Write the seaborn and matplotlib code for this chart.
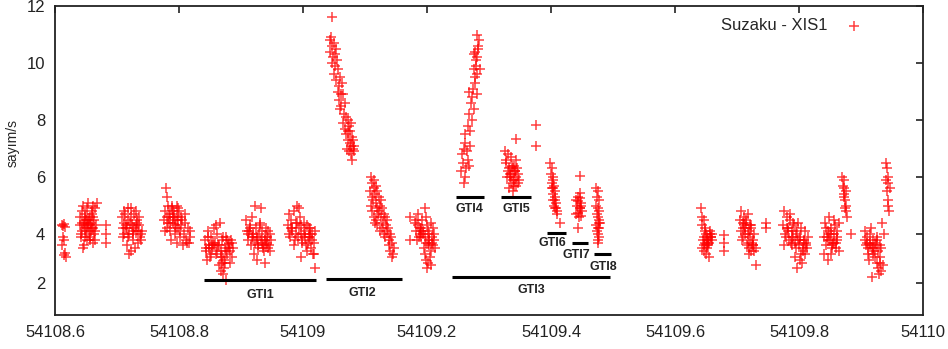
import pandas as pd
import matplotlib
matplotlib.use('Agg')
import matplotlib.pyplot as plt
import seaborn as sns

# ==========================================
# 0. 数据：Suzaku XIS1 光变曲线 (时间 = 54108 + 偏移, 单位 MJD)
# ==========================================
MJD0 = 54108.0

ta = [.612, .614, .616, .613, .615, .612, .616, .614, .617, .613]
ra = [4.30, 4.35, 4.25, 3.90, 3.80, 3.62, 3.35, 3.25, 3.20, 4.28]

tb = [.640, .641, .642, .643, .644, .645, .646, .647, .648, .649,
      .650, .651, .652, .653, .654, .655, .656, .657, .658, .659,
      .660, .661, .662, .663, .664, .665, .666, .667, .642, .645,
      .648, .651, .654, .657, .660, .663, .646, .652, .658, .664,
      .682, .682, .683, .644, .650, .656, .662, .649, .655, .661]
rb = [4.3, 4.6, 3.9, 4.8, 4.1, 5.0, 4.4, 3.6, 4.7, 4.2,
      4.5, 3.8, 4.9, 4.3, 5.1, 4.0, 4.6, 3.9, 4.4, 4.8,
      4.2, 5.0, 3.7, 4.5, 4.1, 4.9, 4.3, 5.1, 4.0, 3.5,
      4.6, 4.2, 4.4, 3.8, 4.7, 4.0, 4.3, 4.5, 4.1, 3.8,
      4.3, 4.0, 3.7, 4.4, 4.1, 4.3, 4.6, 3.9, 4.5, 4.2]

tc = [.708, .710, .712, .714, .716, .718, .720, .722, .724, .726,
      .728, .730, .732, .734, .736, .738, .709, .713, .717, .721,
      .725, .729, .733, .737, .711, .715, .719, .723, .727, .731,
      .735, .739, .740, .722, .718, .712, .726, .730, .734, .716]
rc = [4.6, 3.9, 4.8, 4.2, 3.6, 4.5, 4.0, 4.9, 4.3, 3.8,
      4.7, 4.1, 4.4, 3.7, 4.6, 4.0, 4.2, 4.7, 3.9, 4.4,
      4.1, 3.5, 4.5, 3.9, 4.0, 4.3, 3.3, 4.6, 4.2, 4.8,
      4.3, 3.8, 4.1, 3.4, 4.9, 4.4, 4.0, 4.3, 4.1, 4.2]

td = [.779, .781, .776, .778, .780, .782, .784, .786, .788, .790,
      .792, .794, .796, .798, .800, .777, .783, .787, .791, .795,
      .799, .803, .785, .789, .793, .797, .801, .805, .808, .810,
      .812, .814, .816, .818, .806, .809, .813, .817, .802, .796,
      .781, .786, .791, .794, .798, .804]
rd = [5.6, 5.3, 4.5, 4.8, 4.2, 5.0, 4.6, 4.1, 4.9, 4.4,
      4.7, 4.0, 5.0, 4.5, 4.8, 4.1, 4.4, 3.8, 4.6, 4.2,
      4.9, 4.3, 4.7, 5.0, 4.3, 4.6, 4.1, 4.5, 4.0, 4.4,
      3.8, 4.2, 3.7, 3.9, 3.6, 4.7, 3.7, 4.1, 3.9, 3.7,
      4.6, 4.4, 4.8, 4.5, 4.2, 4.6]

te = [.842, .844, .846, .848, .850, .852, .854, .856, .858, .860,
      .862, .864, .866, .868, .870, .872, .874, .876, .878, .880,
      .882, .884, .886, .843, .847, .851, .855, .859, .863, .867,
      .871, .875, .879, .883, .887, .845, .853, .861, .869, .877,
      .865, .868, .871, .873, .876, .874, .870, .849, .857, .881, .885]
re = [3.8, 3.4, 4.1, 3.6, 3.2, 3.9, 3.5, 4.2, 3.7, 3.3,
      4.0, 3.6, 4.4, 3.4, 3.8, 3.1, 3.5, 3.9, 3.3, 3.7,
      3.4, 3.8, 3.2, 3.5, 3.9, 3.3, 3.7, 4.3, 3.6, 3.2,
      3.9, 3.4, 3.6, 3.0, 3.5, 3.1, 3.6, 3.4, 3.0, 3.8,
      2.9, 2.7, 2.6, 2.8, 2.4, 3.0, 3.2, 3.5, 3.6, 3.5, 3.7]

tf = [.908, .910, .912, .914, .916, .918, .920, .922, .924, .926,
      .928, .930, .932, .934, .936, .938, .940, .942, .944, .946,
      .948, .911, .915, .919, .923, .927, .931, .935, .939, .943,
      .947, .921, .933, .917, .929, .937, .941, .925, .939, .945,
      .913, .926, .934, .942]
rf = [4.5, 4.1, 3.8, 4.3, 3.6, 4.6, 4.0, 3.7, 4.2, 3.9,
      3.5, 4.4, 3.8, 4.1, 3.6, 3.9, 4.2, 3.7, 3.5, 4.0,
      3.8, 4.0, 4.2, 3.9, 5.0, 3.6, 4.3, 3.5, 3.8, 4.1,
      3.4, 3.3, 4.9, 3.9, 4.0, 3.4, 3.6, 3.1, 3.0, 3.6,
      4.1, 3.8, 3.7, 3.9]

tg = [.975, .977, .979, .981, .983, .985, .987, .989, .991, .993,
      .995, .997, .999, 1.001, 1.003, 1.005, 1.007, 1.009, 1.011, 1.013,
      1.015, 1.017, 1.019, .978, .982, .986, .990, .994, .998, 1.002,
      1.006, 1.010, 1.014, 1.018, .992, .996, 1.008, 1.012, 1.016, .988, 1.020,
      .980, .997, 1.004, 1.011]
rg = [4.3, 4.7, 3.9, 4.5, 4.1, 4.8, 3.8, 4.4, 5.0, 4.2,
      4.6, 4.0, 3.7, 4.4, 4.1, 3.6, 4.3, 3.9, 4.2, 3.5,
      4.0, 3.7, 4.1, 4.0, 4.2, 3.6, 4.4, 4.9, 3.8, 4.0,
      3.4, 4.2, 3.8, 3.3, 3.9, 3.2, 3.7, 3.9, 3.3, 4.0, 2.8,
      4.2, 4.3, 3.9, 4.0]

th = [1.047, 1.043, 1.047, 1.045, 1.050, 1.044, 1.049, 1.053, 1.046, 1.051,
      1.052, 1.055, 1.050, 1.056, 1.054, 1.058, 1.060, 1.056, 1.061, 1.063,
      1.058, 1.062, 1.065, 1.060, 1.066, 1.068, 1.064, 1.070, 1.067, 1.072,
      1.074, 1.070, 1.076, 1.072, 1.078, 1.075, 1.071, 1.079, 1.074, 1.077,
      1.081, 1.078, 1.073, 1.080, 1.083, 1.079, 1.082]
rh = [11.6, 10.8, 10.6, 10.9, 10.7, 10.4, 10.2, 10.5, 10.0, 10.3,
      9.9, 10.1, 9.6, 9.8, 9.4, 9.2, 9.5, 9.0, 8.9, 9.3,
      8.7, 8.5, 8.9, 8.4, 8.2, 8.6, 7.9, 8.1, 7.7, 8.0,
      7.8, 7.5, 7.6, 7.3, 7.9, 7.2, 7.0, 7.4, 6.9, 7.1,
      7.3, 6.8, 7.6, 7.0, 7.1, 6.6, 6.9]

ti = [1.110, 1.112, 1.114, 1.108, 1.111, 1.115, 1.113, 1.109, 1.116, 1.118,
      1.112, 1.117, 1.120, 1.114, 1.119, 1.122, 1.116, 1.121, 1.124, 1.118,
      1.123, 1.126, 1.120, 1.125, 1.128, 1.127, 1.130, 1.124, 1.129, 1.132,
      1.131, 1.134, 1.133, 1.136, 1.135, 1.138, 1.137, 1.140, 1.139, 1.142,
      1.141, 1.144, 1.143, 1.146, 1.145]
ri = [6.0, 5.8, 5.9, 5.5, 5.3, 5.6, 5.2, 5.0, 5.4, 5.7,
      4.8, 5.1, 5.5, 4.6, 4.9, 5.3, 4.4, 4.7, 5.0, 4.5,
      4.8, 5.2, 4.3, 4.6, 4.9, 4.2, 4.7, 4.1, 4.4, 4.6,
      4.0, 4.3, 3.9, 4.5, 4.1, 3.8, 4.2, 4.0, 3.6, 3.9,
      3.4, 3.7, 3.2, 3.5, 3.3]

tj = [1.172, 1.173, 1.180, 1.182, 1.184, 1.186, 1.188, 1.190, 1.192, 1.194,
      1.196, 1.198, 1.200, 1.202, 1.204, 1.206, 1.208, 1.210, 1.212, 1.183,
      1.187, 1.191, 1.195, 1.199, 1.203, 1.207, 1.211, 1.185, 1.193, 1.201,
      1.209, 1.189, 1.197, 1.205, 1.213, 1.202, 1.198, 1.206, 1.200,
      1.190, 1.196, 1.204, 1.208]
rj = [4.6, 3.8, 4.4, 4.1, 3.8, 4.7, 4.2, 3.9, 4.5, 4.0,
      4.9, 3.7, 4.3, 4.1, 3.6, 4.4, 3.9, 4.2, 3.8, 4.5,
      3.9, 4.2, 3.5, 4.6, 3.8, 3.4, 4.0, 4.3, 4.1, 3.7,
      3.6, 4.0, 3.3, 3.2, 3.5, 3.0, 3.1, 2.9, 2.8,
      4.1, 3.9, 4.0, 3.7]

tk = [1.259, 1.255, 1.258, 1.262, 1.257, 1.263, 1.260, 1.266, 1.261, 1.264,
      1.268, 1.262, 1.266, 1.269, 1.267, 1.270, 1.271, 1.273, 1.268, 1.276,
      1.272, 1.278, 1.280, 1.274, 1.279, 1.281, 1.277, 1.282, 1.275, 1.284,
      1.279, 1.283, 1.276, 1.281, 1.278, 1.285, 1.280]
rk = [5.8, 6.2, 6.5, 6.0, 6.8, 6.3, 7.0, 6.6, 7.2, 6.9,
      6.4, 7.5, 7.8, 7.1, 8.2, 7.6, 8.6, 8.0, 9.0, 8.4,
      8.8, 9.3, 9.6, 9.1, 9.9, 10.2, 9.5, 10.5, 9.8, 10.8,
      10.1, 10.6, 10.3, 11.0, 10.4, 9.8, 8.9]

tl = [1.326, 1.328, 1.330, 1.332, 1.334, 1.336, 1.338, 1.340, 1.342, 1.344,
      1.327, 1.331, 1.335, 1.339, 1.343, 1.347, 1.329, 1.333, 1.337, 1.341,
      1.345, 1.349, 1.336, 1.340, 1.344, 1.338, 1.342, 1.346, 1.334, 1.343]
rl = [6.9, 6.6, 6.8, 6.3, 6.1, 6.7, 5.9, 6.4, 6.2, 6.0,
      6.5, 6.2, 5.8, 6.3, 5.7, 6.1, 6.0, 5.6, 6.4, 5.9,
      6.3, 5.9, 6.1, 5.7, 6.6, 5.5, 6.2, 5.8, 6.0, 7.35]

tm = [1.376, 1.376]
rm = [7.82, 7.09]

tn = [1.399, 1.401, 1.400, 1.403, 1.402, 1.404, 1.401, 1.405, 1.403, 1.406,
      1.404, 1.407, 1.405, 1.408, 1.406, 1.409, 1.407, 1.410, 1.408, 1.404, 1.414]
rn = [6.5, 6.3, 6.1, 6.0, 5.8, 5.9, 5.6, 5.7, 5.4, 5.5,
      5.2, 5.3, 5.0, 5.1, 4.9, 4.8, 5.2, 4.7, 4.9, 5.6, 4.4]

to = [1.446, 1.446, 1.440, 1.442, 1.444, 1.446, 1.448, 1.450, 1.441, 1.443,
      1.445, 1.447, 1.449, 1.444, 1.446, 1.448, 1.443]
ro = [6.05, 5.45, 5.2, 5.0, 5.3, 4.9, 5.1, 4.8, 4.7, 5.15,
      4.6, 4.9, 5.0, 4.75, 5.25, 4.65, 4.2]

tp = [1.472, 1.475, 1.474, 1.477, 1.473, 1.476, 1.478, 1.474, 1.477, 1.475,
      1.479, 1.473, 1.476, 1.478, 1.475, 1.477, 1.474, 1.476, 1.478, 1.475]
rp = [5.6, 5.5, 5.3, 5.2, 5.0, 4.9, 4.8, 4.7, 4.5, 4.6,
      4.4, 4.3, 4.2, 4.4, 4.0, 3.9, 4.1, 3.8, 4.2, 3.7]

tq = [1.642, 1.644, 1.643, 1.646, 1.648, 1.645, 1.650, 1.647, 1.652, 1.649,
      1.654, 1.651, 1.656, 1.653, 1.658, 1.644, 1.648, 1.652, 1.656, 1.660,
      1.646, 1.650, 1.654, 1.658, 1.655, 1.679, 1.679, 1.679,
      1.647, 1.651, 1.655, 1.659]
rq = [4.9, 4.6, 4.3, 4.5, 4.1, 3.8, 4.0, 3.6, 3.9, 4.2,
      3.7, 3.5, 4.0, 3.8, 3.9, 3.5, 3.7, 3.6, 4.1, 3.8,
      3.4, 3.3, 3.6, 3.9, 3.2, 3.95, 3.7, 3.4,
      3.9, 3.8, 3.7, 4.0]

tr = [1.705, 1.707, 1.709, 1.711, 1.713, 1.715, 1.717, 1.719, 1.721, 1.723,
      1.725, 1.727, 1.706, 1.710, 1.714, 1.718, 1.722, 1.726, 1.730, 1.708,
      1.712, 1.716, 1.720, 1.724, 1.728, 1.719, 1.723, 1.747, 1.747, 1.731,
      1.709, 1.713, 1.717, 1.721, 1.725]
rr = [4.5, 4.8, 4.2, 4.6, 4.0, 4.4, 4.7, 4.1, 3.9, 4.3,
      3.8, 4.0, 4.1, 3.9, 4.5, 3.7, 4.2, 3.6, 3.5, 3.8,
      4.3, 3.6, 3.5, 3.7, 3.4, 3.3, 3.4, 4.4, 4.2, 2.9,
      4.4, 4.2, 4.0, 4.3, 3.6]

ts = [1.774, 1.776, 1.778, 1.780, 1.782, 1.784, 1.786, 1.788, 1.790, 1.792,
      1.794, 1.796, 1.798, 1.800, 1.802, 1.804, 1.806, 1.808, 1.810, 1.812,
      1.775, 1.779, 1.783, 1.787, 1.791, 1.795, 1.799, 1.803, 1.807, 1.811,
      1.814, 1.785, 1.793, 1.801, 1.809, 1.797, 1.789, 1.805,
      1.781, 1.788, 1.795, 1.802, 1.808, 1.813]
rs = [4.3, 4.8, 4.0, 4.6, 4.2, 3.8, 4.5, 4.1, 3.9, 4.3,
      3.7, 4.0, 4.4, 3.6, 3.9, 4.2, 3.5, 3.8, 4.1, 3.6,
      3.6, 3.9, 4.1, 3.7, 4.4, 3.5, 3.8, 3.3, 3.4, 3.7,
      3.9, 4.7, 3.2, 3.1, 3.3, 2.8, 3.6, 3.0,
      4.2, 3.9, 4.1, 3.8, 3.7, 3.5]

tt = [1.840, 1.842, 1.844, 1.846, 1.848, 1.850, 1.852, 1.854, 1.856, 1.858,
      1.860, 1.862, 1.864, 1.841, 1.845, 1.849, 1.853, 1.857, 1.861, 1.865,
      1.843, 1.851, 1.859, 1.847, 1.855, 1.884,
      1.870, 1.872, 1.871, 1.873, 1.872, 1.874, 1.873, 1.875, 1.874, 1.876, 1.875, 1.877,
      1.847, 1.852, 1.856, 1.861]
rt = [3.9, 4.4, 3.6, 4.1, 4.6, 3.8, 4.2, 3.5, 4.0, 4.3,
      3.7, 4.1, 3.4, 3.3, 3.9, 4.0, 3.6, 4.5, 3.8, 4.4,
      4.2, 3.3, 3.5, 3.1, 3.7, 4.0,
      6.0, 5.9, 5.7, 5.6, 5.4, 5.2, 5.3, 5.0, 4.9, 4.8, 5.5, 4.6,
      3.8, 4.0, 3.7, 3.9]

tu = [1.906, 1.908, 1.910, 1.912, 1.914, 1.916, 1.918, 1.920, 1.922, 1.924,
      1.926, 1.928, 1.930, 1.932, 1.934, 1.907, 1.911, 1.915, 1.919, 1.923,
      1.927, 1.931, 1.935, 1.913, 1.921, 1.929, 1.917, 1.925, 1.933, 1.937,
      1.940, 1.942, 1.941, 1.943, 1.942, 1.944, 1.943, 1.945, 1.944, 1.946,
      1.909, 1.915, 1.920, 1.926, 1.931]
ru = [4.1, 3.6, 3.9, 3.3, 3.7, 4.2, 3.5, 3.8, 3.2, 3.6,
      3.9, 3.4, 3.0, 3.5, 4.4, 3.8, 3.5, 4.0, 3.3, 3.7,
      2.8, 3.2, 2.9, 3.1, 3.4, 2.6, 2.5, 3.0, 2.7, 4.0,
      6.5, 6.3, 5.9, 5.8, 5.5, 5.2, 5.0, 4.8, 6.0, 5.6,
      3.7, 3.6, 3.5, 3.8, 3.6]

# GTI 区间 (起点, 终点, 水平线高度) 与标签位置
gti_names = ['GTI1', 'GTI2', 'GTI3', 'GTI4', 'GTI5', 'GTI6', 'GTI7', 'GTI8']
gti_start = [54108.840, 54109.037, 54109.240, 54109.247, 54109.319, 54109.394, 54109.434, 54109.469]
gti_stop = [54109.021, 54109.160, 54109.495, 54109.292, 54109.368, 54109.424, 54109.460, 54109.497]
gti_level = [2.39, 2.42, 2.49, 5.30, 5.30, 4.04, 3.68, 3.30]
gti_label_x = [54108.931, 54109.095, 54109.369, 54109.269, 54109.344, 54109.403, 54109.441, 54109.484]
gti_label_y = [1.86, 1.93, 2.04, 4.88, 4.88, 3.68, 3.26, 2.86]

x_ticks = [54108.6, 54108.8, 54109.0, 54109.2, 54109.4, 54109.6, 54109.8, 54110.0]
x_tick_labels = ['54108.6', '54108.8', '54109', '54109.2', '54109.4', '54109.6', '54109.8', '54110']
y_ticks = [2.28, 4, 6, 8, 10, 12]
y_tick_labels = ['2', '4', '6', '8', '10', '12']

# ==========================================
# 1. 整理成 DataFrame
# ==========================================
segments = [(ta, ra), (tb, rb), (tc, rc), (td, rd), (te, re), (tf, rf), (tg, rg),
            (th, rh), (ti, ri), (tj, rj), (tk, rk), (tl, rl), (tm, rm), (tn, rn),
            (to, ro), (tp, rp), (tq, rq), (tr, rr), (ts, rs), (tt, rt), (tu, ru)]
df = pd.concat([pd.DataFrame({'t': t, 'rate': r}) for t, r in segments], ignore_index=True)
df['t'] = df['t'] + MJD0

# ==========================================
# 2. 绘图
# ==========================================
sns.set_style('white')
plt.rcParams['font.family'] = ['Liberation Sans', 'DejaVu Sans']

fig = plt.figure(figsize=(9.48, 3.49), dpi=100)
ax = fig.add_axes([55 / 948, 34 / 349, 868 / 948, 309 / 349])

sns.scatterplot(data=df, x='t', y='rate', marker='+', color='#ff0000', s=56,
                linewidth=1.1, alpha=0.75, ax=ax, label='Suzaku - XIS1')

# GTI 横线与标签
for name, x0, x1, lv, lx, ly in zip(gti_names, gti_start, gti_stop, gti_level,
                                      gti_label_x, gti_label_y):
    ax.plot([x0, x1], [lv, lv], color='black', linewidth=2.2, solid_capstyle='butt')
    ax.text(lx, ly, name, ha='center', va='center', fontsize=9,
            fontweight='bold', color='#222222')

ax.set_xlim(54108.6, 54110.0)
ax.set_ylim(1.16, 12.0)
ax.set_xticks(x_ticks)
ax.set_xticklabels(x_tick_labels)
ax.set_yticks(y_ticks)
ax.set_yticklabels(y_tick_labels)
ax.set_xlabel('')
ax.set_ylabel('sayım/s', fontsize=10)
ax.yaxis.set_label_coords(-0.041, 0.557)

ax.tick_params(direction='in', top=True, right=True, length=5, width=1.2,
               labelsize=12, pad=7, colors='#222222')
for sp in ax.spines.values():
    sp.set_linewidth(1.3)
    sp.set_color('#222222')

leg = ax.legend(loc='upper right', bbox_to_anchor=(0.957, 1.01), frameon=False,
                markerfirst=False, fontsize=12, handletextpad=0.6)

fig.savefig('out.png', dpi=100)
